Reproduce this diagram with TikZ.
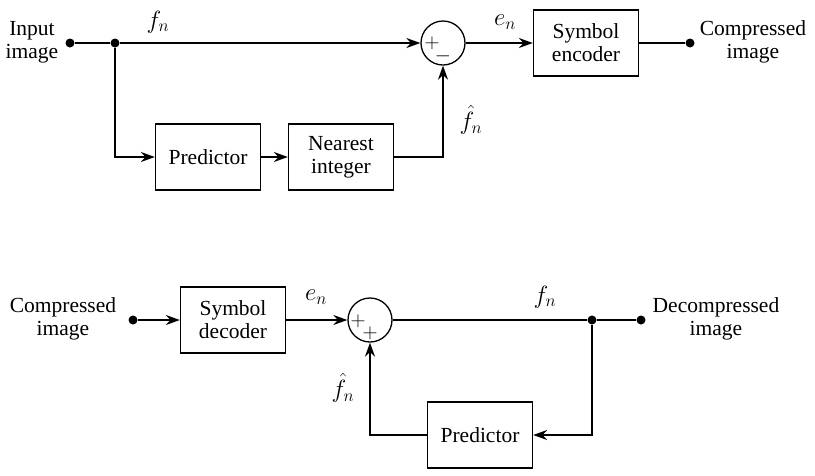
\documentclass[tikz,border=0pt]{standalone}
\usepackage{fontspec}
\setmainfont{Liberation Serif}
\usetikzlibrary{arrows.meta}
\begin{document}
\begin{tikzpicture}[x=1pt,y=-1pt,
  blk/.style={draw,line width=1.3pt,minimum width=105pt,minimum height=66pt,align=center,inner sep=0pt,font=\fontsize{21.5}{23}\selectfont},
  sumc/.style={draw,circle,line width=1.3pt,minimum size=44pt,inner sep=0pt},
  wire/.style={line width=1.6pt},
  arr/.style={wire,-{Stealth[length=14pt,width=10pt]}},
  dotn/.style={circle,fill,inner sep=0pt,minimum size=9pt},
  txt/.style={align=center,inner sep=0pt,font=\fontsize{21.5}{23}\selectfont},
  lbl/.style={inner sep=0pt,font=\fontsize{25}{27}\selectfont},
  sgn/.style={inner sep=0pt,font=\fontsize{21}{21}\selectfont}]
\useasboundingbox (0,0) rectangle (815,475);
% ---- top: encoder ----
\node[txt] (in1) at (32,42) {Input\\image};
\node[dotn] (d1) at (70,43) {};
\node[dotn] (j1) at (115,43) {};
\node[sumc] (s1) at (443,43) {};
\node[blk] (enc) at (586,43) {Symbol\\encoder};
\node[dotn] (d2) at (690,43) {};
\node[txt] (out1) at (753,42) {Compressed\\image};
\node[blk] (pr1) at (208,157) {Predictor};
\node[blk] (ni) at (341,157) {Nearest\\integer};
\draw[wire] (d1) -- (j1);
\draw[arr] (j1) -- (s1);
\draw[arr] (s1) -- (enc);
\draw[wire] (enc) -- (d2);
\draw[arr] (j1) |- (pr1);
\draw[arr] (pr1) -- (ni);
\draw[arr] (ni) -| (s1);
\node[lbl] (fn1) at (158,22) {$f_n$};
\node[lbl] (en1) at (505,22) {$e_n$};
\node[lbl] (fh1) at (471,120) {$\hat{f}_n$};
\node[sgn] (p1) at (432,43) {$+$};
\node[sgn] (m1) at (443,56) {$-$};
% ---- bottom: decoder ----
\node[txt] (in2) at (63,319) {Compressed\\image};
\node[dotn] (d3) at (133,320) {};
\node[blk] (dec) at (233,320) {Symbol\\decoder};
\node[sumc] (s2) at (370,320) {};
\node[dotn] (j2) at (592,320) {};
\node[dotn] (d4) at (641,320) {};
\node[txt] (out2) at (716,319) {Decompressed\\image};
\node[blk] (pr2) at (480,435) {Predictor};
\draw[arr] (d3) -- (dec);
\draw[arr] (dec) -- (s2);
\draw[wire] (s2) -- (j2) -- (d4);
\draw[arr] (j2) |- (pr2);
\draw[arr] (pr2) -| (s2);
\node[lbl] (en2) at (316,297) {$e_n$};
\node[lbl] (fn2) at (545,297) {$f_n$};
\node[lbl] (fh2) at (343,388) {$\hat{f}_n$};
\node[sgn] (p2) at (358,321) {$+$};
\node[sgn] (p3) at (370,333) {$+$};
\end{tikzpicture}
\end{document}
